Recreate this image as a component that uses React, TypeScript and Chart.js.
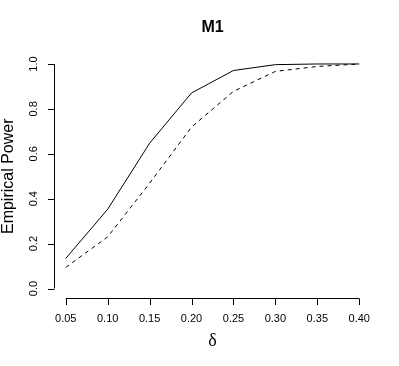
import React, { useEffect, useRef } from "react";
import { Chart, registerables } from "chart.js";

Chart.register(...registerables);

const deltas = [0.05, 0.1, 0.15, 0.2, 0.25, 0.3, 0.35, 0.4];
const solidPower = [0.134, 0.353, 0.647, 0.871, 0.971, 0.997, 1.0, 1.0];
const dashedPower = [0.094, 0.23, 0.469, 0.719, 0.878, 0.967, 0.989, 1.0];
const xTicks = [0.05, 0.1, 0.15, 0.2, 0.25, 0.3, 0.35, 0.4];
const xTickLabels = ["0.05", "0.10", "0.15", "0.20", "0.25", "0.30", "0.35", "0.40"];
const yTicks = [0, 0.2, 0.4, 0.6, 0.8, 1.0];
const yTickLabels = ["0.0", "0.2", "0.4", "0.6", "0.8", "1.0"];
const title = "M1";
const xLabel = "δ";
const yLabel = "Empirical Power";

const rAxesPlugin = {
  id: "rAxes",
  afterDraw(chart: any) {
    const ctx = chart.ctx;
    const xs = chart.scales.x;
    const ys = chart.scales.y;
    const area = chart.chartArea;
    ctx.save();
    ctx.strokeStyle = "#000";
    ctx.fillStyle = "#000";
    ctx.lineWidth = 1;
    ctx.setLineDash([]);
    // x axis
    const xb = Math.round(area.bottom) + 0.5;
    const x0 = xs.getPixelForValue(xTicks[0]);
    const x1 = xs.getPixelForValue(xTicks[xTicks.length - 1]);
    ctx.beginPath();
    ctx.moveTo(x0, xb);
    ctx.lineTo(x1, xb);
    xTicks.forEach((t) => {
      const px = Math.round(xs.getPixelForValue(t)) + 0.5;
      ctx.moveTo(px, xb);
      ctx.lineTo(px, xb + 6.5);
    });
    ctx.stroke();
    ctx.font = "11px 'Liberation Sans', Arial, sans-serif";
    ctx.textAlign = "center";
    ctx.textBaseline = "alphabetic";
    xTicks.forEach((t, i) => {
      ctx.fillText(xTickLabels[i], xs.getPixelForValue(t), 322);
    });
    // y axis
    const yl = Math.round(area.left) + 0.5;
    const y0 = ys.getPixelForValue(yTicks[0]);
    const y1 = ys.getPixelForValue(yTicks[yTicks.length - 1]);
    ctx.beginPath();
    ctx.moveTo(yl, y0);
    ctx.lineTo(yl, y1);
    yTicks.forEach((t) => {
      const py = Math.round(ys.getPixelForValue(t)) + 0.5;
      ctx.moveTo(yl, py);
      ctx.lineTo(yl - 6.5, py);
    });
    ctx.stroke();
    yTicks.forEach((t, i) => {
      ctx.save();
      ctx.translate(36.5, ys.getPixelForValue(t));
      ctx.rotate(-Math.PI / 2);
      ctx.fillText(yTickLabels[i], 0, 0);
      ctx.restore();
    });
    // title
    const cx = (area.left + area.right) / 2;
    ctx.font = "bold 16px 'Liberation Sans', Arial, sans-serif";
    ctx.textBaseline = "middle";
    ctx.fillText(title, cx, 27.5);
    // x label
    ctx.font = "18px 'Liberation Serif', 'Times New Roman', serif";
    ctx.fillText(xLabel, cx, 341);
    // y label
    ctx.save();
    ctx.translate(13, (area.top + area.bottom) / 2);
    ctx.rotate(-Math.PI / 2);
    ctx.font = "16px 'Liberation Sans', Arial, sans-serif";
    ctx.textBaseline = "alphabetic";
    ctx.fillText(yLabel, 0, 0);
    ctx.restore();
    ctx.restore();
  },
};

export default function App() {
  const ref = useRef<HTMLCanvasElement>(null);
  useEffect(() => {
    if (!ref.current) return;
    const chart = new Chart(ref.current, {
      type: "line",
      data: {
        datasets: [
          {
            label: "solid",
            data: deltas.map((d, i) => ({ x: d, y: solidPower[i] })),
            borderColor: "#000",
            borderWidth: 1,
            pointRadius: 0,
            fill: false,
            tension: 0,
          },
          {
            label: "dashed",
            data: deltas.map((d, i) => ({ x: d, y: dashedPower[i] })),
            borderColor: "#000",
            borderWidth: 1,
            borderDash: [4, 4],
            pointRadius: 0,
            fill: false,
            tension: 0,
          },
        ],
      },
      options: {
        responsive: false,
        animation: false,
        layout: { padding: { left: 54, right: 28, top: 55, bottom: 68.5 } },
        plugins: {
          legend: { display: false },
          tooltip: { enabled: false },
          title: { display: false },
        },
        scales: {
          x: { type: "linear", min: 0.036, max: 0.414, display: false },
          y: { type: "linear", min: -0.04, max: 1.04, display: false },
        },
      },
      plugins: [rAxesPlugin],
    });
    return () => chart.destroy();
  }, []);
  return (
    <div style={{ position: "fixed", left: 0, top: 0, width: 399, height: 366, background: "#fff" }}>
      <canvas ref={ref} width={399} height={366} style={{ display: "block" }} />
    </div>
  );
}
